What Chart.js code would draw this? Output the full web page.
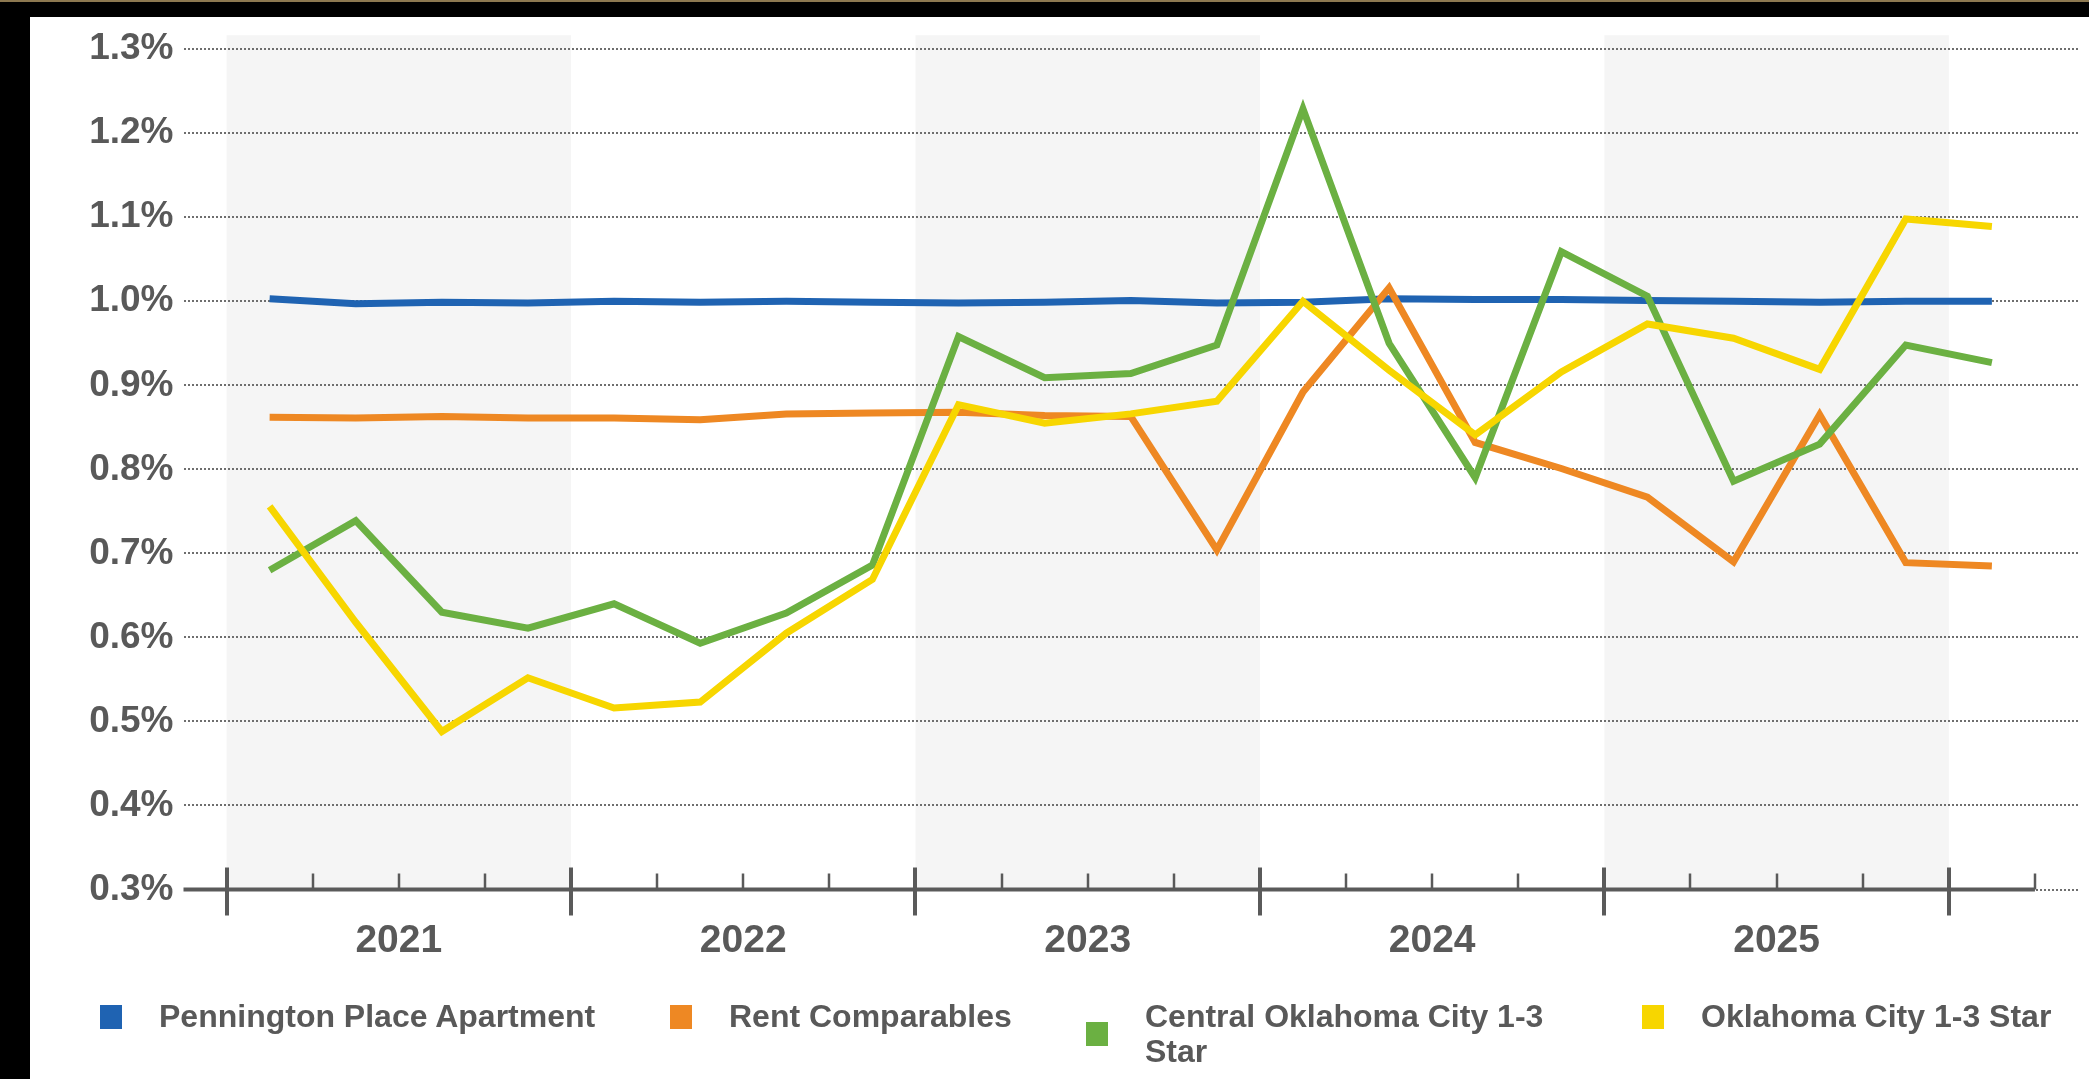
<!DOCTYPE html>
<html>
<head>
<meta charset="utf-8">
<script src="https://cdn.jsdelivr.net/npm/chart.js@4/dist/chart.umd.min.js"></script>
<style>
  html, body { margin: 0; padding: 0; background: #000; }
  body { width: 2089px; height: 1079px; position: relative; overflow: hidden; }
  #topLine { position: absolute; left: 0; top: 0; width: 2089px; height: 2px; background: #8c7850; }
  #wrap { position: absolute; left: 30px; top: 17px; width: 2059px; height: 1062px; background: #fff; }
  #legend { position: absolute; left: 0; top: 0; width: 100%; height: 100%; pointer-events: none; }
  .item { position: absolute; top: 982px; display: flex; align-items: center;
          font-family: "Liberation Sans", Arial, sans-serif; font-weight: bold;
          font-size: 32px; line-height: 35px; color: #595959; white-space: nowrap; }
  .box { width: 22px; height: 24px; flex: none; }
  .txt { margin-left: 37px; }
  .wrapText { white-space: normal; max-width: 420px; }
</style>
</head>
<body>
<div id="topLine"></div>
<div id="wrap">
  <canvas id="chartLine" width="2059" height="1062"></canvas>
  <div id="legend"></div>
</div>
<script>
// quarterly series, Q1 2021 .. Q1 2026 (values in %)
const quarterLabels = [
  "Q1 2021", "Q2 2021", "Q3 2021", "Q4 2021",
  "Q1 2022", "Q2 2022", "Q3 2022", "Q4 2022",
  "Q1 2023", "Q2 2023", "Q3 2023", "Q4 2023",
  "Q1 2024", "Q2 2024", "Q3 2024", "Q4 2024",
  "Q1 2025", "Q2 2025", "Q3 2025", "Q4 2025",
  "Q1 2026",
];
const years = ["2021", "2022", "2023", "2024", "2025"];

const penningtonPlace = [1.003, 0.997, 0.999, 0.998, 1.000, 0.999, 1.000, 0.999, 0.998, 0.999, 1.001,
  0.998, 0.999, 1.003, 1.002, 1.002, 1.001, 1.000, 0.999, 1.000, 1.000];
const rentComparables = [0.862, 0.861, 0.863, 0.861, 0.861, 0.859, 0.866, 0.867, 0.868, 0.864, 0.863,
  0.704, 0.892, 1.016, 0.832, 0.801, 0.767, 0.690, 0.865, 0.689, 0.685];
const centralOkc = [0.680, 0.739, 0.630, 0.611, 0.640, 0.593, 0.629, 0.686, 0.958, 0.909, 0.914,
  0.948, 1.229, 0.950, 0.790, 1.059, 1.006, 0.786, 0.830, 0.948, 0.927];
const okcMetro = [0.756, 0.618, 0.488, 0.552, 0.516, 0.523, 0.605, 0.669, 0.877, 0.855, 0.866,
  0.881, 1.000, 0.918, 0.841, 0.916, 0.973, 0.956, 0.919, 1.098, 1.089];

const yTicks = [0.3, 0.4, 0.5, 0.6, 0.7, 0.8, 0.9, 1.0, 1.1, 1.2, 1.3];

const FONT = "'Liberation Sans', Arial, sans-serif";
const TEXT = "#595959";
const AXIS = "#5a5a5a";

function series(values) {
  return values.map((v, i) => ({ x: i, y: v }));
}

// first quarter index of a year
function yearStart(y) {
  return quarterLabels.indexOf("Q1 " + y);
}

// shaded year bands + the quarter/year tick marks along the bottom
const quarterAxis = {
  id: "quarterAxis",
  beforeDraw(chart) {
    const { ctx, chartArea, scales: { x } } = chart;
    ctx.save();
    ctx.fillStyle = "#f5f5f5";
    years.forEach((y, k) => {
      if (k % 2) return;
      const x0 = x.getPixelForValue(yearStart(y) - 0.5);
      const x1 = x.getPixelForValue(yearStart(y) + 3.5);
      ctx.fillRect(x0, chartArea.top - 14, x1 - x0, chartArea.bottom - chartArea.top + 14);
    });
    ctx.restore();
  },
  afterDatasetsDraw(chart) {
    const { ctx, chartArea, scales: { x } } = chart;
    const yAxis = chartArea.bottom;
    const end = x.getPixelForValue(quarterLabels.length - 0.5);
    ctx.save();
    ctx.strokeStyle = AXIS;
    ctx.lineWidth = 4;
    ctx.beginPath();
    ctx.moveTo(chartArea.left, yAxis);
    ctx.lineTo(end, yAxis);
    ctx.stroke();
    for (let i = 0; i <= quarterLabels.length; i++) {
      const px = Math.round(x.getPixelForValue(i - 0.5));
      const major = i < quarterLabels.length && quarterLabels[i].startsWith("Q1");
      ctx.lineWidth = major ? 4 : 2.5;
      ctx.beginPath();
      ctx.moveTo(px, yAxis - (major ? 22 : 16));
      ctx.lineTo(px, yAxis + (major ? 26 : 0));
      ctx.stroke();
    }
    ctx.restore();
  },
};

const dataLine = {
  datasets: [
    { label: "Pennington Place Apartment", data: series(penningtonPlace), borderColor: "rgb(31, 99, 178)", order: 3 },
    { label: "Rent Comparables", data: series(rentComparables), borderColor: "rgb(238, 136, 35)", order: 2 },
    { label: "Central Oklahoma City 1-3 Star", data: series(centralOkc), borderColor: "rgb(107, 176, 66)", order: 1 },
    { label: "Oklahoma City 1-3 Star", data: series(okcMetro), borderColor: "rgb(247, 214, 0)", order: 0 },
  ],
};
dataLine.datasets.forEach((d) => {
  d.backgroundColor = d.borderColor;
  d.borderWidth = 7;
  d.pointRadius = 0;
  d.tension = 0;
  d.fill = false;
});

const configLineChart = {
  type: "line",
  data: dataLine,
  plugins: [quarterAxis],
  options: {
    responsive: false,
    animation: false,
    layout: { padding: { top: 31, right: 11, bottom: 0, left: 0 } },
    plugins: { legend: { display: false }, tooltip: { enabled: false } },
    scales: {
      x: {
        type: "linear",
        min: -1,
        max: 21,
        afterBuildTicks: (scale) => {
          scale.ticks = years.map((y) => ({ value: yearStart(y) + 1.5 }));
        },
        afterFit: (scale) => { scale.height = 189.5; },
        ticks: {
          autoSkip: false,
          maxRotation: 0,
          padding: 28,
          color: TEXT,
          font: { family: FONT, size: 39, weight: "bold" },
          callback: (v, i) => years[i],
        },
        grid: { display: false, drawTicks: false },
        border: { display: false },
      },
      y: {
        min: 0.3,
        max: 1.3,
        afterBuildTicks: (scale) => {
          scale.ticks = yTicks.map((v) => ({ value: v }));
        },
        afterFit: (scale) => { scale.width = 153.5; },
        ticks: {
          padding: 10,
          color: TEXT,
          font: { family: FONT, size: 37, weight: "bold" },
          callback: (v) => v.toFixed(1) + "%",
        },
        grid: { color: "#6e6e6e", lineWidth: 2, drawTicks: false },
        border: { display: false, dash: [2, 2] },
      },
    },
  },
};

var chartLine = new Chart(
  document.getElementById("chartLine"),
  configLineChart
);

// legend
const legendLeft = [70, 640, 1056, 1612];
const legend = document.getElementById("legend");
dataLine.datasets.forEach((d, i) => {
  const item = document.createElement("div");
  item.className = "item";
  item.style.left = legendLeft[i] + "px";
  const box = document.createElement("div");
  box.className = "box";
  box.style.background = d.borderColor;
  const txt = document.createElement("div");
  txt.className = i === 2 ? "txt wrapText" : "txt";
  txt.textContent = d.label;
  item.appendChild(box);
  item.appendChild(txt);
  legend.appendChild(item);
});
</script>
</body>
</html>
